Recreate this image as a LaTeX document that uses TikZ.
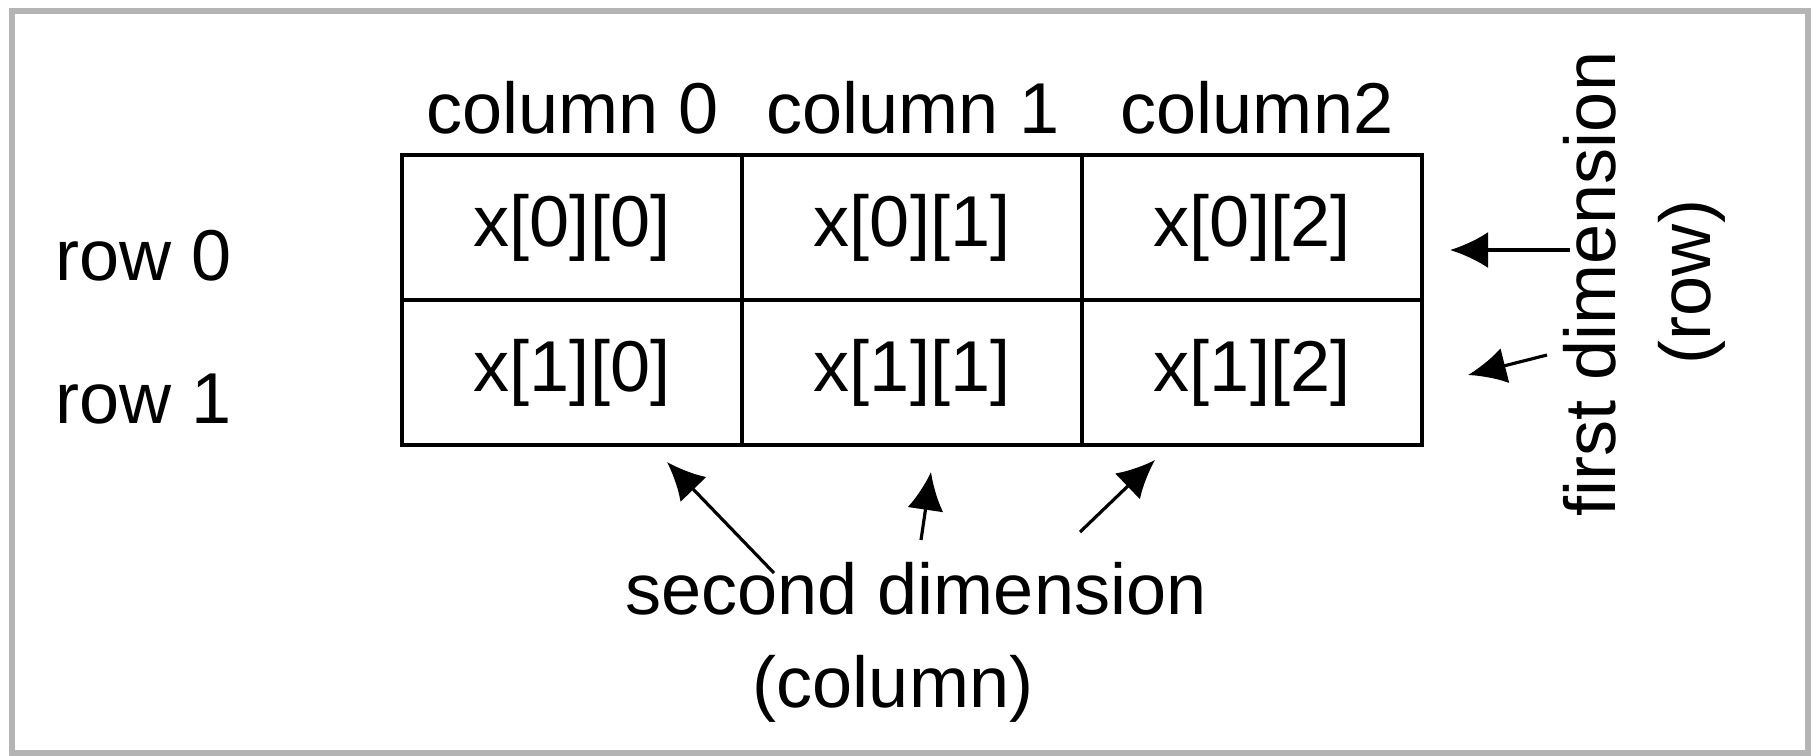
\documentclass[tikz,border=0pt]{standalone}
\usepackage{fontspec}
\setmainfont{Liberation Sans}
\usetikzlibrary{arrows.meta}
\definecolor{rahmen}{HTML}{B4B4B4}
\tikzset{
  schrift/.style={font=\fontsize{20.5}{24}\selectfont,inner sep=0pt},
  zelle/.style={schrift,draw=black,line width=1.2pt,minimum width=3.40cm,minimum height=1.45cm,outer sep=0pt},
  pfeil/.style={-{Latex[length=3.8mm,width=3.6mm]},black,line width=0.9pt},
}
\begin{document}
\begin{tikzpicture}
  \useasboundingbox (0,0) rectangle (18.18,-7.55);
  \draw[rahmen,line width=1.7pt] (0.12,-0.11) rectangle (18.08,-7.525);
  \node[zelle] (z00) at (5.72,-2.275) {x[0][0]};
  \node[zelle] (z01) at (9.12,-2.275) {x[0][1]};
  \node[zelle] (z02) at (12.52,-2.275) {x[0][2]};
  \node[zelle] (z10) at (5.72,-3.725) {x[1][0]};
  \node[zelle] (z11) at (9.12,-3.725) {x[1][1]};
  \node[zelle] (z12) at (12.52,-3.725) {x[1][2]};
  \node[schrift,anchor=base] (k0) at (5.73,-1.33) {column 0};
  \node[schrift,anchor=base] (k1) at (9.13,-1.33) {column 1};
  \node[schrift,anchor=base] (k2) at (12.57,-1.33) {column2};
  \node[schrift,anchor=base west] (r0) at (0.55,-2.80) {row 0};
  \node[schrift,anchor=base west] (r1) at (0.55,-4.23) {row 1};
  \node[schrift,anchor=base] (sd) at (9.16,-6.14) {second dimension};
  \node[schrift,anchor=base] (sc) at (8.93,-7.07) {(column)};
  \node[schrift,rotate=90,anchor=base] (fd) at (16.15,-2.84) {first dimension};
  \node[schrift,rotate=90,anchor=base] (fr) at (17.10,-2.82) {(row)};
  \coordinate (s0) at (7.74,-5.73);
  \coordinate (t0) at (6.67,-4.62);
  \coordinate (s1) at (9.21,-5.40);
  \coordinate (t1) at (9.31,-4.72);
  \coordinate (s2) at (10.80,-5.32);
  \coordinate (t2) at (11.55,-4.60);
  \coordinate (f0) at (15.70,-2.50);
  \coordinate (e0) at (14.50,-2.50);
  \coordinate (f1) at (15.47,-3.55);
  \coordinate (e1) at (14.68,-3.75);
  \draw[pfeil] (s0) -- (t0);
  \draw[pfeil] (s1) -- (t1);
  \draw[pfeil] (s2) -- (t2);
  \draw[pfeil] (f0) -- (e0);
  \draw[pfeil] (f1) -- (e1);
\end{tikzpicture}
\end{document}
